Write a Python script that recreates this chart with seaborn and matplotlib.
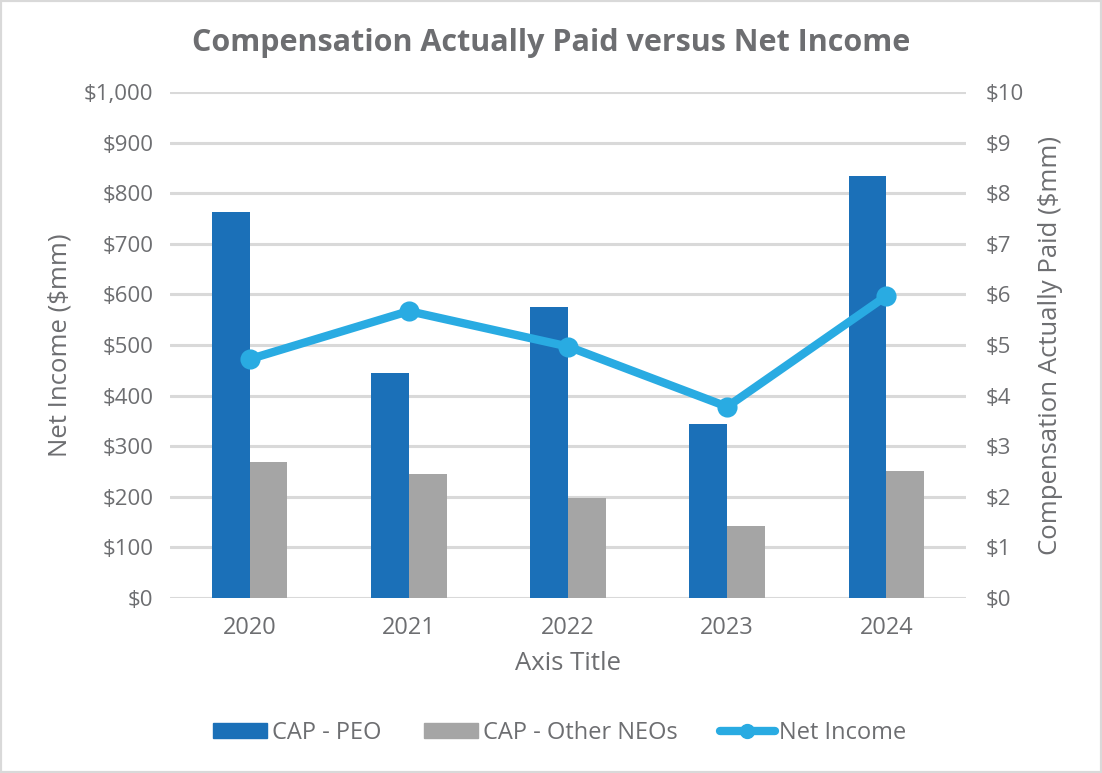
import numpy as np
import pandas as pd
import seaborn as sns
import matplotlib.pyplot as plt
from matplotlib.lines import Line2D
from matplotlib.patches import Patch, Rectangle
from matplotlib.ticker import FuncFormatter

years = ["2020", "2021", "2022", "2023", "2024"]
cap_peo = [7.62, 4.45, 5.76, 3.43, 8.34]
cap_other_neos = [2.69, 2.45, 1.97, 1.42, 2.50]
net_income = [472, 567, 497, 378, 597]

series_names = ["CAP - PEO", "CAP - Other NEOs"]

bars = pd.DataFrame({
    "year": years * 2,
    "series": [series_names[0]] * len(years) + [series_names[1]] * len(years),
    "cap": cap_peo + cap_other_neos,
})

sns.set_style("white")
plt.rcParams["font.family"] = ["Open Sans", "DejaVu Sans"]

txt = "#6d6e71"
blue = "#1b70b8"
grey = "#a5a5a5"
light = "#29abe2"
gridc = "#d9d9d9"

fig = plt.figure(figsize=(11.02, 7.73), dpi=100)
ax = fig.add_axes([170 / 1102, 1 - 598 / 773, (966 - 170) / 1102, (598 - 92) / 773])
ax2 = ax.twinx()

# bars on the right (CAP) axis
sns.barplot(data=bars, x="year", y="cap", hue="series", order=years,
            palette=[blue, grey], width=0.475, saturation=1, linewidth=0,
            ax=ax2, legend=False)

# net income line on the left axis
sns.pointplot(x=years, y=net_income, order=years, color=light, ax=ax,
              markers="o", markersize=10, linewidth=6)

ax.set_zorder(ax2.get_zorder() + 1)
ax.patch.set_visible(False)

ax.set_ylim(0, 1000)
ax2.set_ylim(0, 10)
ax.set_xlim(-0.5, 4.5)
ax.set_yticks(np.arange(0, 1001, 100))
ax2.set_yticks(np.arange(0, 11, 1))
ax.yaxis.set_major_formatter(FuncFormatter(lambda v, p: f"${v:,.0f}"))
ax2.yaxis.set_major_formatter(FuncFormatter(lambda v, p: f"${v:,.0f}"))

ax2.grid(axis="y", color=gridc, linewidth=2.2)
ax2.set_axisbelow(True)
ax.grid(False)
for a in (ax, ax2):
    for s in a.spines.values():
        s.set_visible(False)
    a.tick_params(length=0, colors=txt, labelsize=16)

ax.tick_params(axis="y", pad=12)
ax2.tick_params(axis="y", pad=14)
ax.tick_params(axis="x", pad=13, labelsize=17)

ax.set_xlabel("Axis Title", fontsize=18.5, color=txt, labelpad=8)
ax.set_ylabel("Net Income ($mm)", fontsize=18.5, color=txt, labelpad=8)
ax2.set_ylabel("Compensation Actually Paid ($mm)", fontsize=18.5, color=txt, labelpad=10)
ax2.set_xlabel("")

fig.suptitle("Compensation Actually Paid versus Net Income", x=0.5, y=1 - 43 / 773,
             va="center", fontsize=22, fontweight="bold", color=txt)

handles = [Patch(color=blue), Patch(color=grey),
           Line2D([], [], color=light, linewidth=6, marker="o", markersize=10)]
fig.legend(handles, series_names + ["Net Income"], loc="center",
           bbox_to_anchor=(0.508, 1 - 733 / 773), ncol=3, frameon=False,
           fontsize=17, labelcolor=txt, handlelength=2.3, handleheight=0.6,
           handletextpad=0.2, columnspacing=1.8)

fig.patches.append(Rectangle((0, 0), 1, 1, transform=fig.transFigure,
                             fill=False, edgecolor=gridc, linewidth=3))

fig.savefig("out.png", dpi=100)
